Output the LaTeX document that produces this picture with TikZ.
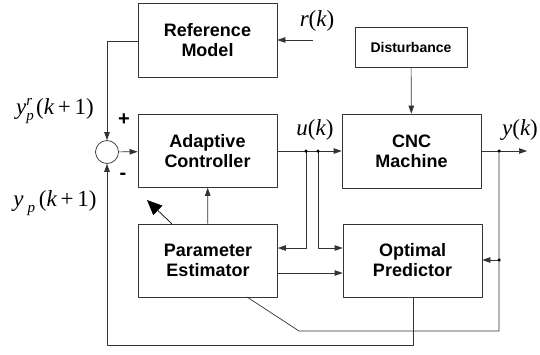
\documentclass[tikz,border=0pt]{standalone}
\usepackage{fontspec}
\setsansfont{Liberation Sans}
\newfontfamily\tms{Liberation Serif}
\usetikzlibrary{arrows.meta}

% italic variable and small index in the signal labels
\newcommand\sv[1]{{\itshape #1}}
\newcommand\idx[2]{\raisebox{#1}{\fontsize{15}{17}\selectfont\itshape #2}}

\tikzset{
  blk/.style={draw, line width=0.7pt, inner sep=0pt, align=center,
    font=\fontsize{18}{20}\selectfont\sffamily\bfseries},
  sig/.style={font=\fontsize{23}{25}\selectfont\tms, inner sep=1pt},
  sgn/.style={font=\fontsize{20}{22}\selectfont\sffamily\bfseries, inner sep=0pt},
  dot/.style={circle, fill=black, inner sep=0pt, minimum size=3.5pt},
}

\begin{document}
\begin{tikzpicture}[x=1pt, y=-1pt, line join=round, color=black!80, line width=0.7pt,
    every node/.append style={text=black},
    >={Triangle[length=8pt,width=5.5pt]}]
  \useasboundingbox (0,0) rectangle (540,354);

  % blocks
  \node[blk, minimum width=139pt, minimum height=74pt] (ref) at (207.5,40) {Reference\\Model};
  \node[blk, minimum width=112pt, minimum height=40pt,
        font=\fontsize{14}{16}\selectfont\sffamily\bfseries] (dist) at (411,47) {Disturbance};
  \node[blk, minimum width=139pt, minimum height=73pt] (ctrl) at (207.5,151) {Adaptive\\Controller};
  \node[blk, minimum width=139pt, minimum height=74pt] (cnc) at (411.5,151) {CNC\\Machine};
  \node[blk, minimum width=139pt, minimum height=73pt] (est) at (208,260.5) {Parameter\\Estimator};
  \node[blk, minimum width=139pt, minimum height=73pt] (pred) at (412.5,260.5) {Optimal\\Predictor};
  \node[draw, circle, minimum size=23pt, inner sep=0pt] (sum) at (107,152) {};

  \path
    (313,40) coordinate (rin)
    (527,151) coordinate (yout)
    (306,151) coordinate (u1)
    (318,151) coordinate (u2)
    (499,151) coordinate (y1)
    (306,248) coordinate (u1b)
    (318,248) coordinate (u2b)
    (499,260) coordinate (y2)
    (499,331) coordinate (y3)
    (299,331) coordinate (bend)
    (247,297) coordinate (estb)
    (281,273) coordinate (estr)
    (413,345) coordinate (fb)
    (107,345) coordinate (fbl)
    (172,224) coordinate (adfrom)
    (147,200) coordinate (adto)
    ;

  % forward path
  \draw[->] (ref.west |- 0,41) -| (sum.north);
  \draw[->] (rin) -- (ref.east);
  \draw[->] (dist) -- (cnc);
  \draw[->] (sum) -- (ctrl);
  \draw[->] (ctrl) -- (cnc);
  \draw[->] (cnc) -- (yout);
  \draw[->] (est) -- (ctrl);

  % estimator and predictor links
  \draw[->] (u1) -- (u1b) -- (u1b -| est.east);
  \draw[->] (u2) -- (u2b) -- (u2b -| pred.west);
  \draw[->] (estr -| est.east) -- (estr -| pred.west);
  \draw (y1) -- (y3) -- (bend) -- (estb);
  \draw[->] (y2) -- (y2 -| pred.east);
  \draw[->] (pred.south -| fb) -- (fb) -- (fbl) -- (sum.south);

  % adaptation arrow
  \draw[-{Triangle[length=15pt,width=13pt]}, black] (adfrom) -- (adto);

  \foreach \p in {u1, u2, y1, y2}{
    \node[dot] at (\p) {};
  }

  % labels
  \node[sig] (rlab) at (317,21) {\sv{r}(\sv{k})};
  \node[sig] (ulab) at (315,130) {\sv{u}(\sv{k})};
  \node[sig] (ylab) at (520,130) {\sv{y}(\sv{k})};
  \node[sig] (yref) at (55,111) {\sv{y}\idx{-6pt}{\rlap{p}}\idx{9pt}{r}\,(\sv{k}\,+\,1)};
  \node[sig] (yplab) at (55,203) {\sv{y}\,\idx{-6pt}{p}\,(\sv{k}\,+\,1)};
  \node[sgn] (plus) at (124,120) {+};
  \node[sgn] (minus) at (123,176) {-};
\end{tikzpicture}
\end{document}
